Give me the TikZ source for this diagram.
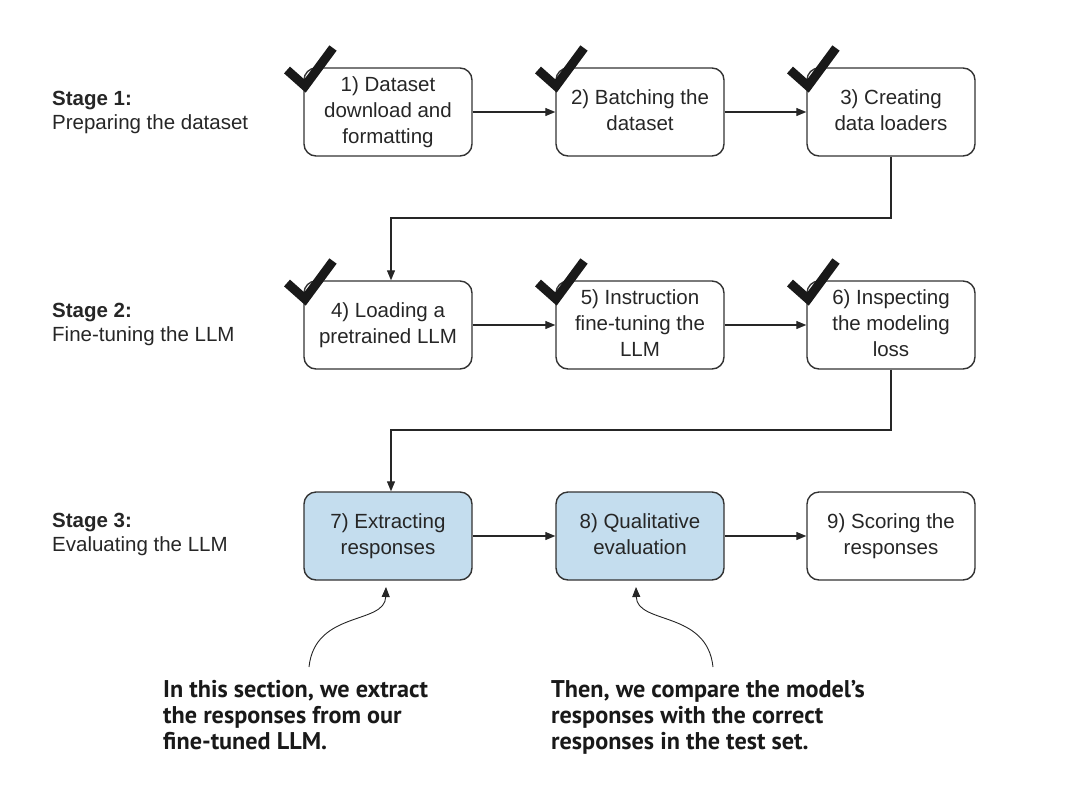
\documentclass[tikz,border=0pt]{standalone}
\usepackage{fontspec}
\setmainfont{Liberation Sans}
\newfontfamily\notefont{PT Sans}
\usetikzlibrary{arrows.meta}
\definecolor{boxblue}{HTML}{C4DDEE}
\definecolor{boxline}{HTML}{333333}
\tikzset{
  stepbox/.style={draw=boxline, line width=1.4pt, rounded corners=12pt, minimum width=168pt, minimum height=88pt, align=center, inner sep=0pt, font=\fontsize{20.5}{26}\selectfont, text=black!85},
  bluebox/.style={stepbox, fill=boxblue},
  conn/.style={draw=black!85, line width=1.2pt, -{Triangle[length=10pt,width=8pt]}},
  check/.style={line width=9pt, black!90, line join=miter},
  stagelbl/.style={anchor=west, align=left, font=\fontsize{20.5}{24}\selectfont, text=black!85, inner sep=0pt},
  note/.style={anchor=north west, align=left, font=\notefont\bfseries\fontsize{24.2}{26}\selectfont, text=black!90, inner sep=0pt}
}
\begin{document}
\begin{tikzpicture}[x=1pt,y=-1pt]
\useasboundingbox (0,0) rectangle (1092,804);

% row 1
\node[stepbox] (b1) at (388,112) {\strut 1) Dataset\\download and\\formatting\strut};
\node[stepbox] (b2) at (640,112) {\strut 2) Batching the\\dataset\strut};
\node[stepbox] (b3) at (891,112) {\strut 3) Creating\\data loaders\strut};
% row 2
\node[stepbox] (b4) at (388,325) {\strut 4) Loading a\\pretrained LLM\strut};
\node[stepbox] (b5) at (640,325) {\strut 5) Instruction\\fine-tuning the\\LLM\strut};
\node[stepbox] (b6) at (891,325) {\strut 6) Inspecting\\the modeling\\loss\strut};
% row 3
\node[bluebox] (b7) at (388,536) {\strut 7) Extracting\\responses\strut};
\node[bluebox] (b8) at (640,536) {\strut 8) Qualitative\\evaluation\strut};
\node[stepbox] (b9) at (891,536) {\strut 9) Scoring the\\responses\strut};

% checks (drawn over the boxes)
\newcommand{\mycheck}[2]{\draw[check] (#1-18,#2+1) -- (#1,#2+17) -- (#1+28,#2-21);}
\mycheck{305}{69}
\mycheck{556}{69}
\mycheck{808}{69}
\mycheck{305}{282}
\mycheck{556}{282}
\mycheck{808}{282}

% stage labels
\node[stagelbl] (s1) at (52,112) {\textbf{Stage 1:}\\Preparing the dataset};
\node[stagelbl] (s2) at (52,324) {\textbf{Stage 2:}\\Fine-tuning the LLM};
\node[stagelbl] (s3) at (52,534) {\textbf{Stage 3:}\\Evaluating the LLM};

% connectors
\draw[conn] (b1) -- (b2);
\draw[conn] (b2) -- (b3);
\draw[conn] (b4) -- (b5);
\draw[conn] (b5) -- (b6);
\draw[conn] (b7) -- (b8);
\draw[conn] (b8) -- (b9);
\draw[conn] (b3.south) -- (891,218) -- (391,218) -- (b4.north -| 391,0);
\draw[conn] (b6.south) -- (891,430) -- (391,430) -- (b7.north -| 391,0);

% notes
\node[note] (n1) at (163,680) {In this section, we extract\\the responses from our\\fine-tuned LLM.};
\node[note] (n2) at (551,680) {Then, we compare the model’s\\responses with the correct\\responses in the test set.};
\coordinate (c1) at (309,667);
\coordinate (c2) at (713,667);
\draw[draw=black!85, line width=0.9pt, -{Triangle[length=10pt,width=8pt]}] (c1) .. controls (315,610) and (385,625) .. (386,587);
\draw[draw=black!85, line width=0.9pt, -{Triangle[length=10pt,width=8pt]}] (c2) .. controls (707,610) and (637,625) .. (636,587);
\end{tikzpicture}
\end{document}
